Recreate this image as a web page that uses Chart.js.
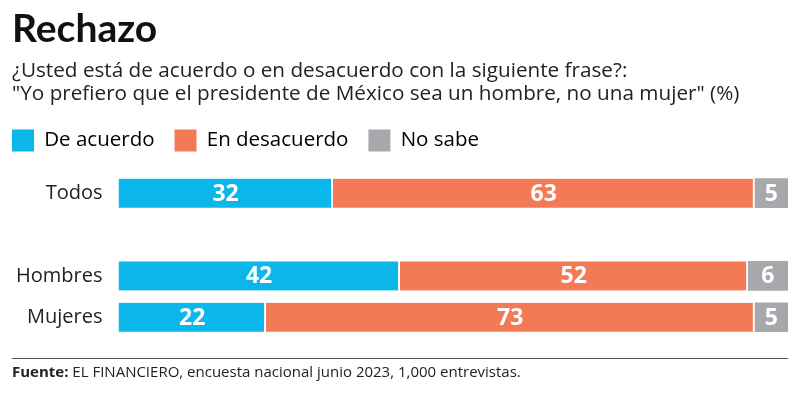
<!DOCTYPE html>
<html>
<head>
<meta charset="utf-8">
<script src="https://cdn.jsdelivr.net/npm/chart.js@4.4.0/dist/chart.umd.min.js"></script>
<style>
  html, body { margin: 0; padding: 0; background: #fff; }
  #wrap { width: 800px; height: 395px; }
</style>
</head>
<body>
<div id="wrap"><canvas id="rechazoChart" width="800" height="395"></canvas></div>
<script>
const titleText = "Rechazo";
const subtitleLines = [
  "¿Usted está de acuerdo o en desacuerdo con la siguiente frase?:",
  "\"Yo prefiero que el presidente de México sea un hombre, no una mujer\" (%)"
];
const sourceLabel = "Fuente:";
const sourceText = "EL FINANCIERO, encuesta nacional junio 2023, 1,000 entrevistas.";

// empty row separates "Todos" from the gender breakdown
const categories = ["Todos", "", "Hombres", "Mujeres"];
const seriesNames = ["De acuerdo", "En desacuerdo", "No sabe"];
const deAcuerdo = [32, null, 42, 22];
const enDesacuerdo = [63, null, 52, 73];
const noSabe = [5, null, 6, 5];
const seriesColors = ["#0AB6EA", "#F47A56", "#A6A8AB"];

const FONT = "'Open Sans', sans-serif";

// white value labels centred in each segment
const barLabels = {
  id: "barLabels",
  afterDatasetsDraw(chart) {
    const ctx = chart.ctx;
    ctx.save();
    ctx.font = "bold 23px " + FONT;
    ctx.fillStyle = "#fff";
    ctx.textAlign = "center";
    ctx.textBaseline = "middle";
    chart.data.datasets.forEach((ds, i) => {
      chart.getDatasetMeta(i).data.forEach((bar, j) => {
        const v = ds.data[j];
        if (v == null) return;
        const { x, base, y } = bar.getProps(["x", "base", "y"], true);
        ctx.fillText(v, (x + base) / 2, y + 1);
      });
    });
    ctx.restore();
  }
};

// rule + source line under the chart
const footer = {
  id: "footer",
  afterDraw(chart) {
    const ctx = chart.ctx;
    ctx.save();
    ctx.strokeStyle = "#555";
    ctx.lineWidth = 1;
    ctx.beginPath();
    ctx.moveTo(12, 358.5);
    ctx.lineTo(788, 358.5);
    ctx.stroke();
    ctx.fillStyle = "#222";
    ctx.textBaseline = "middle";
    ctx.font = "bold 15px " + FONT;
    ctx.fillText(sourceLabel, 12, 373);
    const w = ctx.measureText(sourceLabel + " ").width;
    ctx.font = "15px " + FONT;
    ctx.fillText(sourceText, 12 + w, 373);
    ctx.restore();
  }
};

// legend items start flush with the title
const legendShift = {
  id: "legendShift",
  afterLayout(chart) {
    chart.legend.left -= chart.options.plugins.legend.labels.padding;
  }
};

const sepBorder = { left: 0, right: 2, top: 0, bottom: 0 };

new Chart(document.getElementById("rechazoChart"), {
  type: "bar",
  data: {
    labels: categories,
    datasets: [
      { label: seriesNames[0], data: deAcuerdo, backgroundColor: seriesColors[0], borderColor: "#fff", borderWidth: sepBorder },
      { label: seriesNames[1], data: enDesacuerdo, backgroundColor: seriesColors[1], borderColor: "#fff", borderWidth: sepBorder },
      { label: seriesNames[2], data: noSabe, backgroundColor: seriesColors[2], borderWidth: 0 }
    ]
  },
  options: {
    indexAxis: "y",
    responsive: false,
    animation: false,
    datasets: { bar: { barThickness: 29, borderSkipped: false } },
    layout: { padding: { top: 0, left: 12, right: 12, bottom: 57.1 } },
    scales: {
      x: {
        position: "top",
        stacked: true,
        min: 0,
        max: 100,
        grid: { display: false, drawTicks: false },
        border: { display: false },
        ticks: { display: false },
        afterFit: (s) => { s.height = 11; }
      },
      y: {
        stacked: true,
        grid: { display: false, drawTicks: false },
        border: { display: false },
        ticks: { color: "#222", padding: 16, font: { family: FONT, size: 20 } },
        afterFit: (s) => { s.width = 106.5; }
      }
    },
    plugins: {
      tooltip: { enabled: false },
      title: {
        display: true,
        text: titleText,
        align: "start",
        color: "#111",
        font: { family: "Lato, " + FONT, size: 39, weight: "bold", lineHeight: 1 },
        padding: { top: 10, bottom: 0 }
      },
      subtitle: {
        display: true,
        text: subtitleLines,
        align: "start",
        color: "#222",
        font: { family: FONT, size: 20.7, lineHeight: "23px" },
        padding: { top: 10.5, bottom: 4 }
      },
      legend: {
        position: "top",
        align: "start",
        labels: {
          boxWidth: 22,
          boxHeight: 22,
          padding: 20,
          color: "#222",
          font: { family: FONT, size: 20.5 },
          generateLabels: (chart) => chart.data.datasets.map((ds, i) => ({
            text: ds.label,
            fillStyle: ds.backgroundColor,
            strokeStyle: ds.backgroundColor,
            lineWidth: 0,
            datasetIndex: i,
            hidden: false
          }))
        }
      }
    }
  },
  plugins: [barLabels, footer, legendShift]
});
</script>
</body>
</html>
